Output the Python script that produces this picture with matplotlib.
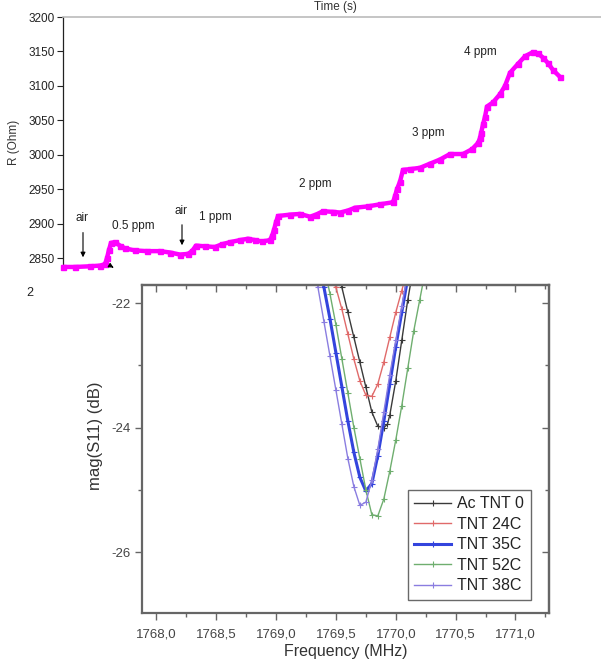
import matplotlib
matplotlib.use("Agg")
import matplotlib.pyplot as plt
from matplotlib.ticker import MultipleLocator, FuncFormatter

plt.rcParams['font.family'] = ['Liberation Sans', 'DejaVu Sans']

# ---------------- top panel data: resistance vs time ----------------
time_s = [0, 12, 27, 37, 42, 44, 46, 48, 52, 57, 62, 72, 84, 97, 107, 117, 125, 129, 133,
          142, 152, 159, 167, 177, 185, 192, 199, 207, 209, 211, 213, 215, 227, 237, 247,
          253, 260, 270, 277, 285, 292, 305, 317, 330, 332, 334, 337, 340, 347, 357, 367,
          377, 387, 400, 409, 415, 417, 418, 420, 422, 424, 430, 437, 442, 447, 455, 462,
          470, 475, 480, 485, 490, 497]
resistance = [2837, 2837, 2838, 2839, 2841, 2850, 2862, 2872, 2873, 2868, 2864, 2861, 2860,
              2860, 2858, 2855, 2856, 2860, 2868, 2867, 2866, 2870, 2873, 2876, 2878, 2876,
              2874, 2876, 2882, 2891, 2902, 2911, 2913, 2914, 2910, 2913, 2918, 2917, 2916,
              2919, 2923, 2925, 2928, 2931, 2940, 2950, 2961, 2978, 2979, 2981, 2987, 2993,
              3001, 3001, 3008, 3017, 3024, 3031, 3044, 3055, 3070, 3076, 3088, 3100, 3119,
              3132, 3143, 3149, 3147, 3141, 3133, 3123, 3113]
r_ticks = [2850, 2900, 2950, 3000, 3050, 3100, 3150, 3200]
labels_top = ["air", "0.5 ppm", "air", "1 ppm", "2 ppm", "3 ppm", "4 ppm"]

# ---------------- bottom panel data: S11 vs frequency ----------------
freq_black = [1769.50, 1769.55, 1769.60, 1769.65, 1769.70, 1769.75, 1769.80, 1769.85,
              1769.90, 1769.93, 1769.95, 1770.00, 1770.05, 1770.10, 1770.15]
s11_black = [-21.40, -21.75, -22.15, -22.55, -22.95, -23.35, -23.75, -23.98,
             -24.00, -23.95, -23.80, -23.25, -22.60, -21.95, -21.40]
freq_red = [1769.45, 1769.50, 1769.55, 1769.60, 1769.65, 1769.70, 1769.75, 1769.80,
            1769.85, 1769.90, 1769.95, 1770.00, 1770.05, 1770.10]
s11_red = [-21.55, -21.75, -22.10, -22.50, -22.90, -23.25, -23.48, -23.50,
           -23.30, -22.95, -22.55, -22.15, -21.80, -21.45]
freq_blue = [1769.35, 1769.40, 1769.45, 1769.50, 1769.55, 1769.60, 1769.65, 1769.70,
             1769.75, 1769.80, 1769.85, 1769.90, 1769.95, 1770.00, 1770.05, 1770.10, 1770.15]
s11_blue = [-21.35, -21.75, -22.25, -22.80, -23.35, -23.90, -24.40, -24.80,
            -25.02, -24.90, -24.45, -23.90, -23.30, -22.70, -22.15, -21.60, -21.10]
freq_green = [1769.40, 1769.45, 1769.50, 1769.55, 1769.60, 1769.65, 1769.70, 1769.75,
              1769.80, 1769.85, 1769.90, 1769.95, 1770.00, 1770.05, 1770.10, 1770.15,
              1770.20, 1770.25]
s11_green = [-21.40, -21.85, -22.35, -22.90, -23.45, -24.00, -24.50, -25.00,
             -25.40, -25.42, -25.15, -24.70, -24.20, -23.65, -23.05, -22.45, -21.95, -21.45]
freq_purple = [1769.30, 1769.35, 1769.40, 1769.45, 1769.50, 1769.55, 1769.60, 1769.65,
               1769.70, 1769.75, 1769.80, 1769.85, 1769.90, 1769.95, 1770.00, 1770.05, 1770.10]
s11_purple = [-21.25, -21.75, -22.30, -22.85, -23.40, -23.95, -24.50, -24.95,
              -25.25, -25.20, -24.85, -24.35, -23.75, -23.15, -22.60, -22.05, -21.50]
series_names = ["Ac TNT 0", "TNT 24C", "TNT 35C", "TNT 52C", "TNT 38C"]
freq_ticks = [1768.0, 1768.5, 1769.0, 1769.5, 1770.0, 1770.5, 1771.0]
s11_ticks = [-22, -24, -26]

W, H = 601, 664
fig = plt.figure(figsize=(W / 100, H / 100), dpi=100)

def rect(x0, y0, x1, y1):
    return [x0 / W, 1 - y1 / H, (x1 - x0) / W, (y1 - y0) / H]

# ================= top panel =================
ax1 = fig.add_axes(rect(63, 17, 603, 268))
ax1.plot(time_s, resistance, color='#ff00ff', lw=3.2, marker='s', ms=3.6,
         mec='#ff00ff', mfc='#ff00ff', solid_capstyle='butt', clip_on=False, zorder=3)
ax1.set_xlim(0, 540)
ax1.set_ylim(2835.5, 3200)
ax1.set_yticks(r_ticks)
ax1.tick_params(axis='y', direction='out', length=4, width=0.8, labelsize=8.5,
                colors='#222222', pad=2)
ax1.set_xticks([])
for s in ['right', 'bottom']:
    ax1.spines[s].set_visible(False)
ax1.spines['left'].set_color('#222222')
ax1.spines['left'].set_linewidth(0.9)
ax1.spines['top'].set_color('#bbbbbb')
ax1.spines['top'].set_linewidth(1.2)
ax1.set_ylabel("R (Ohm)", fontsize=8.5, color='#333333', labelpad=6)

txt_kw = dict(fontsize=8.5, color='#222222', ha='center', va='center')
ax1.text(19, 2908, labels_top[0], **txt_kw)
ax1.text(70, 2896.5, labels_top[1], **txt_kw)
ax1.text(118, 2918, labels_top[2], **txt_kw)
ax1.text(152, 2909.6, labels_top[3], **txt_kw)
ax1.text(252, 2957.5, labels_top[4], **txt_kw)
ax1.text(365, 3031.6, labels_top[5], **txt_kw)
ax1.text(417, 3149.2, labels_top[6], **txt_kw)
arr = dict(arrowstyle='-|>', color='black', lw=0.8, mutation_scale=7)
ax1.annotate('', xy=(20, 2847), xytext=(20, 2891), arrowprops=arr)
ax1.annotate('', xy=(119, 2864.5), xytext=(119, 2902.3), arrowprops=arr)
ax1.annotate('', xy=(53, 2834), xytext=(47, 2839), arrowprops=arr, annotation_clip=False)

fig.text(335 / W, 1 - 1 / H, "Time (s)", ha='center', va='top', fontsize=8.5,
         color='#333333')
fig.text(30 / W, 1 - 293 / H, "2", ha='center', va='center', fontsize=9, color='#222222')

# ================= bottom panel =================
ax2 = fig.add_axes(rect(142, 285, 549, 613))
series = [(freq_black, s11_black, '#3a3a3a', 1.0),
          (freq_red, s11_red, '#e06a6a', 1.0),
          (freq_blue, s11_blue, '#3344dd', 2.2),
          (freq_green, s11_green, '#6fae6f', 1.0),
          (freq_purple, s11_purple, '#8a7de0', 1.0)]
for (f, v, c, lw), name in zip(series, series_names):
    ax2.plot(f, v, color=c, lw=lw, marker='+', ms=4, mew=0.8, label=name)

ax2.set_xlim(1767.88, 1771.28)
ax2.set_ylim(-26.98, -21.71)
ax2.set_xticks(freq_ticks)
ax2.xaxis.set_minor_locator(MultipleLocator(0.25))
ax2.set_yticks(s11_ticks)
ax2.yaxis.set_minor_locator(MultipleLocator(1))
ax2.xaxis.set_major_formatter(FuncFormatter(lambda x, p: f"{x:.1f}".replace('.', ',')))
ax2.yaxis.set_major_formatter(FuncFormatter(lambda y, p: f"{y:.0f}"))
ax2.tick_params(which='both', direction='out', colors='#666666', labelcolor='#444444',
                labelsize=9.5, width=1.0)
ax2.tick_params(which='major', length=5)
ax2.tick_params(which='minor', length=3)
ax2.tick_params(axis='x', pad=6)
for s in ax2.spines.values():
    s.set_color('#666666')
    s.set_linewidth(1.6)
ax2.set_xlabel("Frequency (MHz)", fontsize=11.5, color='#333333', labelpad=3)
ax2.set_ylabel("mag(S11) (dB)", fontsize=12, color='#333333')
ax2.yaxis.set_label_coords(-0.095, 0.54)

# mirrored inward ticks on top and right
top = ax2.secondary_xaxis('top')
top.set_xticks(freq_ticks)
top.xaxis.set_minor_locator(MultipleLocator(0.25))
top.tick_params(which='both', direction='in', colors='#666666', labeltop=False, width=1.0)
top.tick_params(which='major', length=5)
top.tick_params(which='minor', length=3)
top.spines['top'].set_color('#666666')
top.spines['top'].set_linewidth(1.6)
right = ax2.secondary_yaxis('right')
right.set_yticks(s11_ticks)
right.yaxis.set_minor_locator(MultipleLocator(1))
right.tick_params(which='both', direction='in', colors='#666666', labelright=False, width=1.0)
right.tick_params(which='major', length=5)
right.tick_params(which='minor', length=3)
right.spines['right'].set_color('#666666')
right.spines['right'].set_linewidth(1.6)

leg = ax2.legend(loc='lower right', bbox_to_anchor=(0.955, 0.04), fontsize=11.5,
                 frameon=True, fancybox=False, borderpad=0.4, labelspacing=0.35,
                 handlelength=2.3, handletextpad=0.4, borderaxespad=0)
leg.get_frame().set_edgecolor('#444444')
leg.get_frame().set_linewidth(1.0)
for t in leg.get_texts():
    t.set_color('#222222')

fig.savefig("out.png", dpi=100)
